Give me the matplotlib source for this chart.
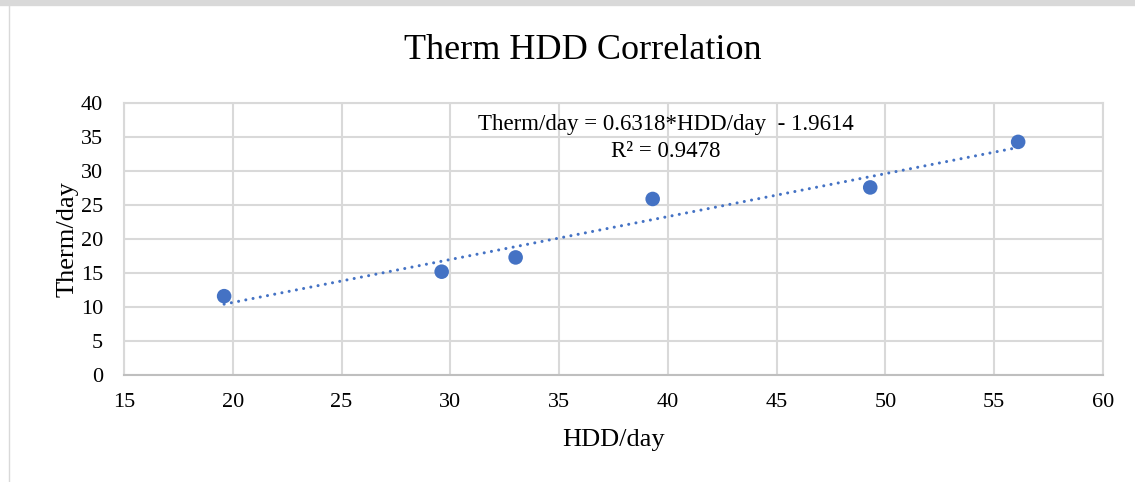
import matplotlib
matplotlib.use("Agg")
import matplotlib.pyplot as plt
from matplotlib.lines import Line2D
import numpy as np

# values
hdd_per_day = [19.6, 29.6, 33.0, 39.3, 49.3, 56.1]
therm_per_day = [11.6, 15.2, 17.3, 25.9, 27.6, 34.3]
slope = 0.6318
intercept = -1.9614
r_squared = 0.9478

x_ticks = list(range(15, 61, 5))
y_ticks = list(range(0, 41, 5))

plt.rcParams['font.family'] = ['Liberation Serif', 'DejaVu Serif']

fig = plt.figure(figsize=(11.35, 4.82), dpi=100)
ax = fig.add_axes([0.1093, 0.222, 0.8625, 0.564])

# trendline over the data range
xs = np.array([min(hdd_per_day), max(hdd_per_day)])
ax.plot(xs, slope * xs + intercept, color='#4472C4', lw=2.2,
        linestyle=(0, (0.01, 2.4)), dash_capstyle='round', zorder=3)
ax.scatter(hdd_per_day, therm_per_day, s=110, color='#4472C4', zorder=4,
           edgecolors='none')

ax.set_xlim(15, 60)
ax.set_ylim(0, 40)
ax.set_xticks(x_ticks)
ax.set_yticks(y_ticks)
ax.grid(True, color='#d9d9d9', lw=1.5)
ax.set_axisbelow(True)
ax.tick_params(length=0, labelsize=16)
ax.tick_params(axis='x', pad=13)
ax.tick_params(axis='y', pad=15)
for side in ['top', 'right', 'left']:
    ax.spines[side].set_color('#d9d9d9')
    ax.spines[side].set_linewidth(1.5)
ax.spines['bottom'].set_color('#bfbfbf')
ax.spines['bottom'].set_linewidth(1.5)

ax.set_xlabel('HDD/day', fontsize=19, labelpad=12)
ax.set_ylabel('Therm/day', fontsize=19, labelpad=2)
fig.text(0.513, 0.895, 'Therm HDD Correlation', ha='center', va='center',
         fontsize=26)

ax.text(39.9, 34.9, f'Therm/day = {slope}*HDD/day  - {-intercept}\nR² = {r_squared}',
        ha='center', va='center', fontsize=16.5, linespacing=1.35)

# frame of the pasted chart
fig.add_artist(Line2D([0, 1], [0.995, 0.995], transform=fig.transFigure,
                      color='#d9d9d9', lw=6))
fig.add_artist(Line2D([0.0075, 0.0075], [0, 0.99], transform=fig.transFigure,
                      color='#d9d9d9', lw=1))

fig.savefig('out.png', dpi=100)
